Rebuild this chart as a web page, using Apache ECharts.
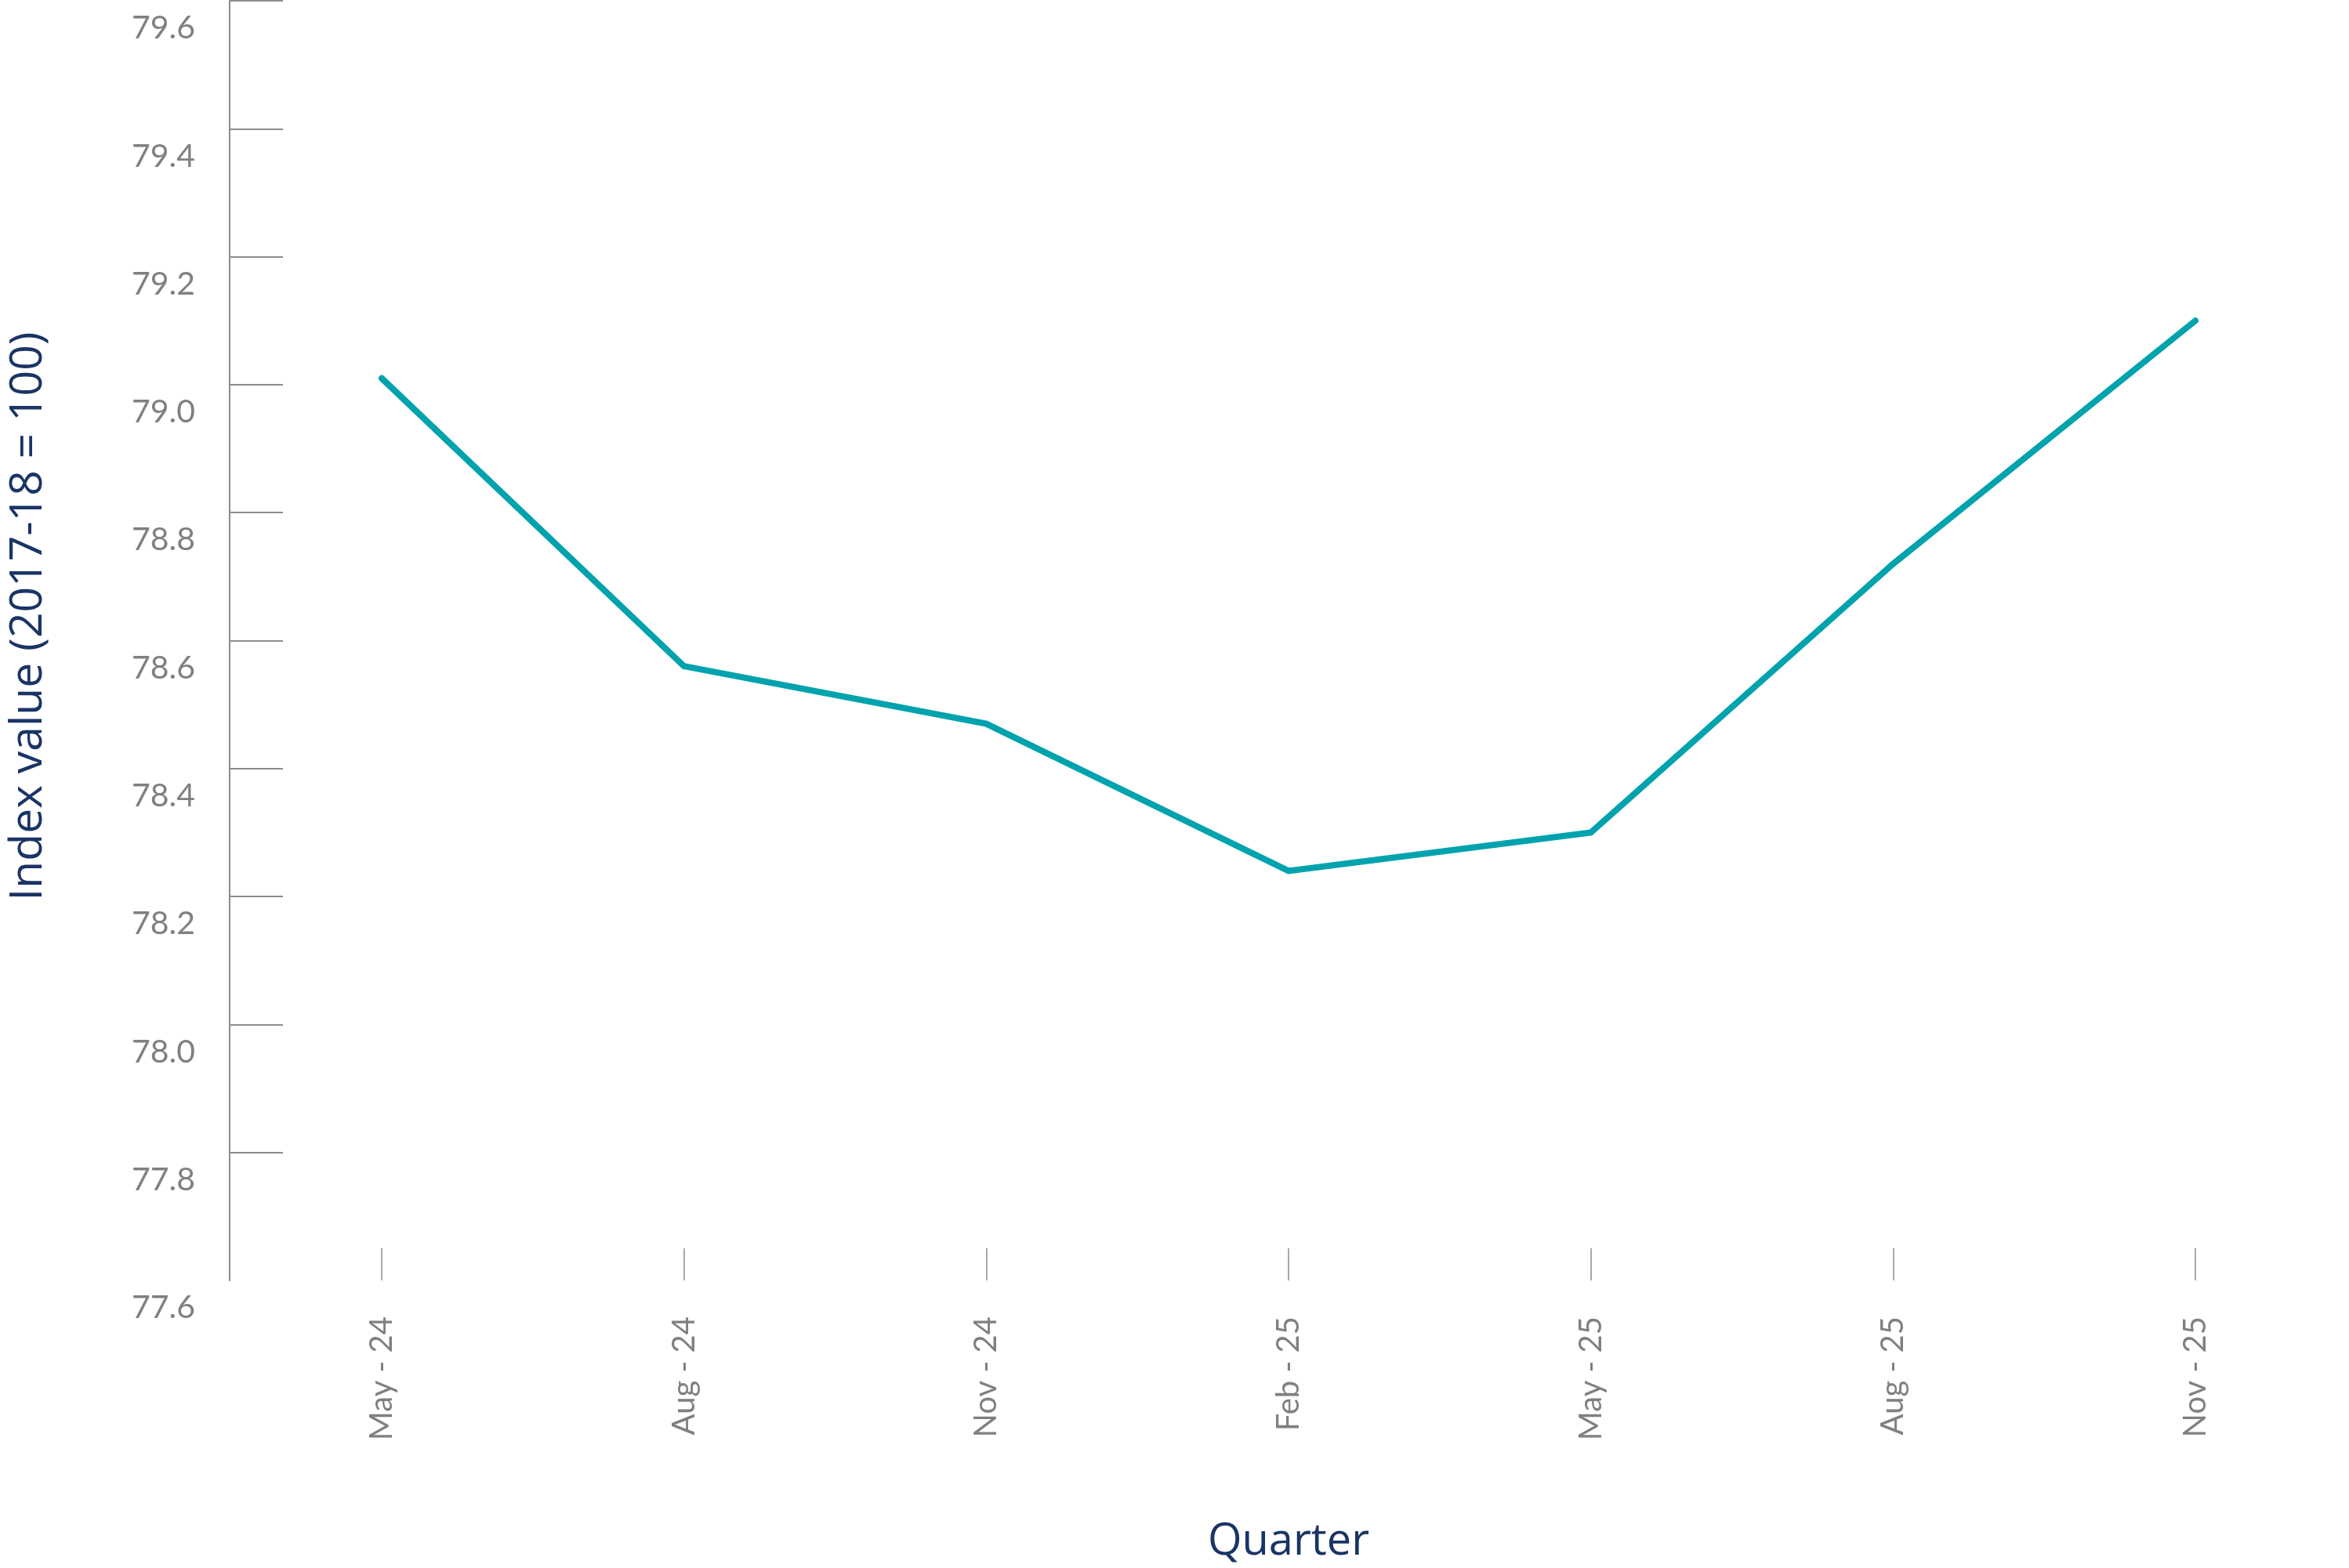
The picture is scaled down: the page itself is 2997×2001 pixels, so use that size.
<!DOCTYPE html>
<html>
<head>
<meta charset="utf-8">
<script src="https://cdn.jsdelivr.net/npm/echarts@6/dist/echarts.min.js"></script>
<style>
html,body{margin:0;padding:0;background:#fff;overflow:hidden;}
#chart{width:2997px;height:2001px;}
</style>
</head>
<body>
<div id="chart"></div>
<script>
const categories = ['May - 24','Aug - 24','Nov - 24','Feb - 25','May - 25','Aug - 25','Nov - 25'];
const indexValues = [79.01, 78.56, 78.47, 78.24, 78.30, 78.72, 79.10];
const yTicks = { min: 77.6, max: 79.6, interval: 0.2 };
const yTickMarks = [77.8, 78.0, 78.2, 78.4, 78.6, 78.8, 79.0, 79.2, 79.4, 79.6];
const xAxisTitle = 'Quarter';
const yAxisTitle = 'Index value (2017-18 = 100)';

const chart = echarts.init(document.getElementById('chart'), null, {renderer:'canvas'});
const gray = '#808080';
const navy = '#1B3466';
chart.setOption({
  backgroundColor: '#ffffff',
  animation: false,
  grid: { left: 486, right: 196, top: 1, bottom: 362, containLabel: false },
  xAxis: {
    type: 'category',
    data: categories,
    boundaryGap: false,
    axisLine: { show: false },
    axisTick: { show: true, inside: true, length: 41, lineStyle: { color: '#8c8c8c', width: 1.5 } },
    axisLabel: { rotate: 90, margin: 46, color: gray, fontSize: 40, fontFamily: 'Lato' },
    splitLine: { show: false },
    name: xAxisTitle,
    nameLocation: 'middle',
    nameGap: 306,
    nameTextStyle: { color: navy, fontSize: 56, fontFamily: 'Open Sans' }
  },
  yAxis: {
    type: 'value',
    min: yTicks.min,
    max: yTicks.max,
    interval: yTicks.interval,
    offset: 194,
    axisLine: { show: true, lineStyle: { color: '#8c8c8c', width: 2 } },
    axisTick: { show: true, inside: true, length: 68, customValues: yTickMarks, lineStyle: { color: '#8c8c8c', width: 2 } },
    splitLine: { show: false },
    axisLabel: {
      margin: 44, color: gray, fontSize: 41, fontFamily: 'Lato',
      verticalAlign: 'top', lineHeight: 42, padding: [14, 0, 0, 0],
      formatter: v => v.toFixed(1)
    },
    name: yAxisTitle,
    nameLocation: 'middle',
    nameGap: 228,
    nameTextStyle: { color: navy, fontSize: 57, fontFamily: 'Open Sans', padding: [0, 0, 0, 62] }
  },
  series: [{
    type: 'line',
    data: indexValues,
    showSymbol: false,
    symbol: 'none',
    lineStyle: { color: '#00A3AD', width: 8, cap: 'round', join: 'miter' }
  }]
});
</script>
</body>
</html>
